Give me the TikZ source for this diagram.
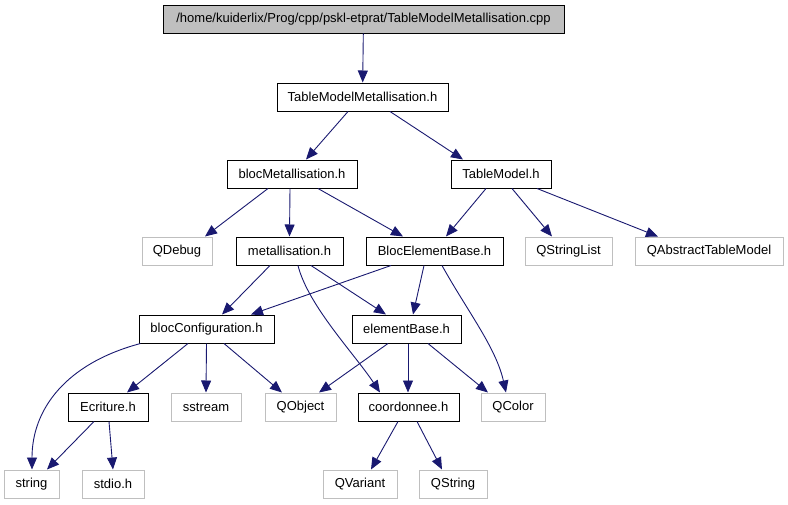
\documentclass[tikz,border=0pt]{standalone}
\usepackage{fontspec}
\setmainfont{Liberation Sans}
\usetikzlibrary{arrows.meta}

\definecolor{edgeblue}{HTML}{191970}
\definecolor{boxgray}{HTML}{BFBFBF}

\begin{document}
\begin{tikzpicture}[
    x=1pt, y=-1pt,
    file node/.style={rectangle, draw=black, line width=1pt, minimum height=28pt, inner sep=0pt, font=\fontsize{13}{15}\selectfont},
    ext node/.style={file node, draw=boxgray},
    root node/.style={file node, fill=boxgray},
    dep line/.style={-{Triangle[length=12pt,width=10pt,fill=edgeblue]}, draw=edgeblue, line width=0.9pt}
]
    \useasboundingbox (0,0) rectangle (788,504);

    % Nodes
    \node[root node, minimum width=401pt] (cpp) at (363.5,19) {/home/kuiderlix/Prog/cpp/pskl-etprat/TableModelMetallisation.cpp};
    \node[file node, minimum width=171pt] (tmm) at (362.5,97) {TableModelMetallisation.h};
    \node[file node, minimum width=130pt] (bmet) at (292,174) {blocMetallisation.h};
    \node[file node, minimum width=100pt] (tmod) at (501,174) {TableModel.h};
    \node[ext node, minimum width=70pt] (qdebug) at (177,251) {QDebug};
    \node[file node, minimum width=107pt] (metal) at (289.5,251) {metallisation.h};
    \node[file node, minimum width=137pt] (beb) at (434.5,251) {BlocElementBase.h};
    \node[ext node, minimum width=87pt] (qsl) at (568.5,251) {QStringList};
    \node[ext node, minimum width=148pt] (qatm) at (709,251) {QAbstractTableModel};
    \node[file node, minimum width=135pt] (bconf) at (206.5,329) {blocConfiguration.h};
    \node[file node, minimum width=109pt] (ebase) at (406.5,329) {elementBase.h};
    \node[file node, minimum width=80pt] (ecri) at (108,407) {Ecriture.h};
    \node[ext node, minimum width=70pt] (sstream) at (206,407) {sstream};
    \node[ext node, minimum width=71pt] (qobj) at (300.5,407) {QObject};
    \node[file node, minimum width=101pt] (coord) at (408.5,407) {coordonnee.h};
    \node[ext node, minimum width=64pt] (qcolor) at (513,407) {QColor};
    \node[ext node, minimum width=55pt] (str) at (31.5,484) {string};
    \node[ext node, minimum width=62pt] (stdio) at (113,484) {stdio.h};
    \node[ext node, minimum width=74pt] (qvar) at (360,484) {QVariant};
    \node[ext node, minimum width=68pt] (qstr) at (453,484) {QString};

    % Edges
    \draw[dep line] (cpp) -- (tmm);
    \draw[dep line] ([xshift=-14.5pt]tmm.south) -- ([xshift=14pt]bmet.north);
    \draw[dep line] ([xshift=27.5pt]tmm.south) -- ([xshift=-38pt]tmod.north);
    \draw[dep line] ([xshift=-24pt]bmet.south) -- ([xshift=28pt]qdebug.north);
    \draw[dep line] ([xshift=-2pt]bmet.south) -- (metal.north);
    \draw[dep line] ([xshift=26pt]bmet.south) -- ([xshift=-31.5pt]beb.north);
    \draw[dep line] ([xshift=-15pt]tmod.south) -- ([xshift=11.5pt]beb.north);
    \draw[dep line] ([xshift=11pt]tmod.south) -- ([xshift=-16.5pt]qsl.north);
    \draw[dep line] ([xshift=36pt]tmod.south) -- ([xshift=-51pt]qatm.north);
    \draw[dep line] ([xshift=-19.5pt]metal.south) -- ([xshift=15.5pt]bconf.north);
    \draw[dep line] ([xshift=21.5pt]metal.south) -- ([xshift=-20.5pt]ebase.north);
    \draw[dep line] ([xshift=8.5pt]metal.south) .. controls +(10,40) and +(-25,-38) .. ([xshift=-28.5pt]coord.north);
    \draw[dep line] ([xshift=-43.5pt]beb.south) -- ([xshift=44.5pt]bconf.north);
    \draw[dep line] ([xshift=-10.5pt]beb.south) -- ([xshift=6.5pt]ebase.north);
    \draw[dep line] ([xshift=7.5pt]beb.south) .. controls +(25,45) and +(-10,-45) .. ([xshift=-7pt]qcolor.north);
    \draw[dep line] ([xshift=2pt]bconf.south west) .. controls +(-75,20) and +(0,-60) .. ([xshift=0.5pt]str.north);
    \draw[dep line] ([xshift=-18.5pt]bconf.south) -- ([xshift=19pt]ecri.north);
    \draw[dep line] (bconf.south) -- (sstream.north);
    \draw[dep line] ([xshift=17.5pt]bconf.south) -- ([xshift=-18.5pt]qobj.north);
    \draw[dep line] ([xshift=-18.5pt]ebase.south) -- ([xshift=18.5pt]qobj.north);
    \draw[dep line] ([xshift=1.5pt]ebase.south) -- ([xshift=-0.5pt]coord.north);
    \draw[dep line] ([xshift=21.5pt]ebase.south) -- ([xshift=-25pt]qcolor.north);
    \draw[dep line] ([xshift=-14pt]ecri.south) -- ([xshift=15.5pt]str.north);
    \draw[dep line] ([xshift=1pt]ecri.south) -- (stdio.north);
    \draw[dep line] ([xshift=-10.5pt]coord.south) -- ([xshift=11pt]qvar.north);
    \draw[dep line] ([xshift=8.5pt]coord.south) -- ([xshift=-11pt]qstr.north);

\end{tikzpicture}
\end{document}
